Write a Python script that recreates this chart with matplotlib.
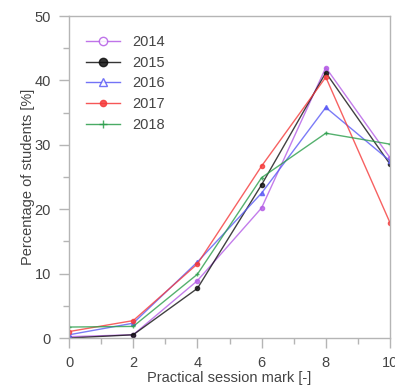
import matplotlib
matplotlib.use("Agg")
import matplotlib.pyplot as plt
from matplotlib.ticker import MultipleLocator
from matplotlib.lines import Line2D

plt.rcParams['font.family'] = ['Liberation Sans', 'DejaVu Sans']

marks = [0, 2, 4, 6, 8, 10]
years = ['2014', '2015', '2016', '2017', '2018']
y2014 = [0.2, 0.5, 8.9, 20.2, 42.0, 28.0]
y2015 = [0.0, 0.5, 7.7, 23.8, 41.2, 27.0]
y2016 = [0.5, 2.3, 11.8, 22.5, 35.8, 27.5]
y2017 = [1.0, 2.7, 11.5, 26.7, 40.5, 17.9]
y2018 = [1.7, 1.8, 9.9, 24.9, 31.8, 30.1]
series = [y2014, y2015, y2016, y2017, y2018]

colors = ['#b45ce6', '#111111', '#5a5af5', '#f53a3a', '#2a9d4a']
markers = ['o', 'o', '^', 'o', '+']
mfc = ['white', '#111111', 'white', '#f53a3a', '#2a9d4a']
lms = [6, 6, 6, 4.5, 6]

fig = plt.figure(figsize=(3.95, 3.89), dpi=100)
ax = fig.add_axes([69/395, 1-338/389, (390-69)/395, (338-16)/389])

for yr, vals, c, m in zip(years, series, colors, markers):
    ax.plot(marks, vals, color=c, lw=1.0, marker=m, ms=3, mfc=c, mec=c,
            label=yr, alpha=0.8)

ax.set_xlim(0, 10)
ax.set_ylim(0, 50)
ax.xaxis.set_major_locator(MultipleLocator(2))
ax.xaxis.set_minor_locator(MultipleLocator(1))
ax.yaxis.set_major_locator(MultipleLocator(10))
ax.yaxis.set_minor_locator(MultipleLocator(5))

tc = '#444444'
sc = '#b5b5b5'
for s in ax.spines.values():
    s.set_color(sc)
    s.set_linewidth(1.0)
ax.tick_params(which='major', direction='out', length=7, width=1.0,
               color=sc, labelcolor=tc, labelsize=10.5, pad=6)
ax.tick_params(which='minor', direction='out', length=4, width=1.0, color=sc)
ax.tick_params(axis='x', which='both', top=False)
ax.tick_params(axis='y', which='both', right=False)

ax.set_xlabel('Practical session mark [-]', color=tc, fontsize=10.5, labelpad=1)
ax.set_ylabel('Percentage of students [%]', color=tc, fontsize=10.5, labelpad=0)

handles = []
for c, m, f, s in zip(colors, markers, mfc, lms):
    handles.append(Line2D([0], [0], color=c, lw=1.0, marker=m, ms=s,
                          mfc=f, mec=c, alpha=0.85))
leg = ax.legend(handles, years, loc='upper left', frameon=False,
                fontsize=10.5, handlelength=2.3, handletextpad=0.9,
                labelspacing=0.45, borderaxespad=0.0,
                bbox_to_anchor=(0.035, 0.958))
for t in leg.get_texts():
    t.set_color(tc)

fig.savefig('out.png', dpi=100)
